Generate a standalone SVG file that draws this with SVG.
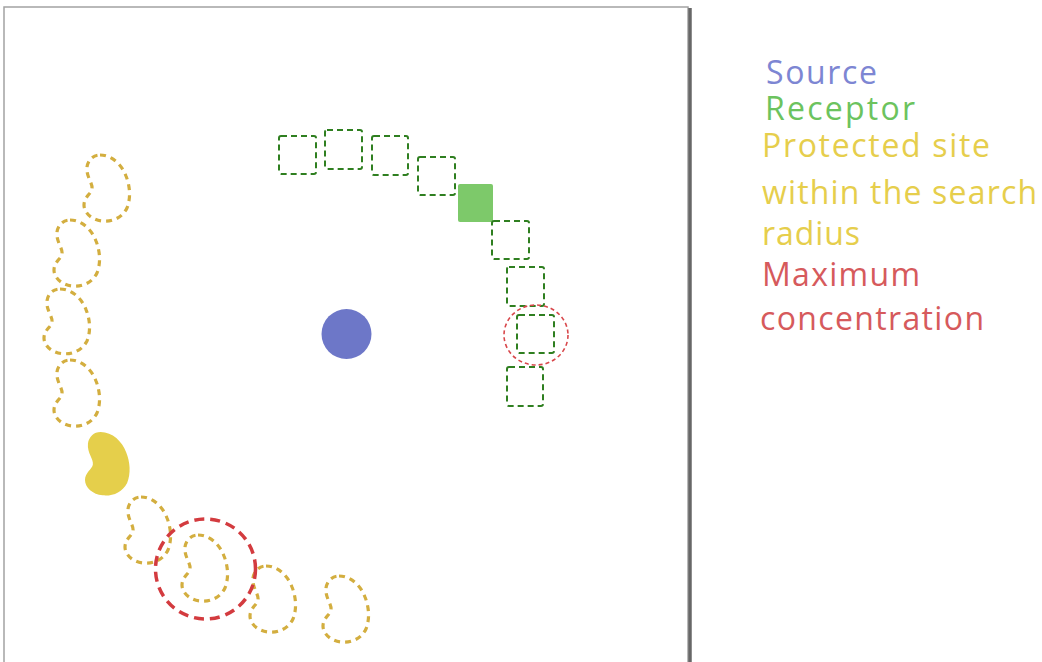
<svg xmlns="http://www.w3.org/2000/svg" xmlns:xlink="http://www.w3.org/1999/xlink" width="1042" height="662" viewBox="0 0 1042 662">
<style>
.frame{fill:none;stroke:#a3a3a3;stroke-width:1.5}
.shadow{stroke:#676767;stroke-width:3.5}
.site{fill:none;stroke:#D3AE3F;stroke-width:3.2;stroke-dasharray:6 5;stroke-linecap:butt}
.sitefill{fill:#E5CF4B;stroke:none}
.rec{fill:none;stroke:#2F7F20;stroke-width:2;stroke-dasharray:6 4}
.recfill{fill:#7DC96A}
.maxbig{fill:none;stroke:#D33B3F;stroke-width:3.5;stroke-dasharray:10 6}
.maxsmall{fill:none;stroke:#D8474B;stroke-width:1.6;stroke-dasharray:4 3}
.lg{font-family:"Open Sans","Noto Sans",sans-serif;font-size:32px}
</style>
<defs>
<path id="bean" d="M16,0 C28,0 38,10 42,21 C46,31 47,43 43,53 C38,63 28,67 18,66 C8,65 0,58 0,50 C0,42 7,39 8,34 C9,28 2,22 3,12 C4,5 9,0 16,0 Z"/>
</defs>
<rect width="1042" height="662" fill="#ffffff"/>
<g id="frame">
<rect class="frame" x="4" y="7" width="684" height="700"/>
<line class="shadow" x1="690" y1="8" x2="690" y2="662"/>
</g>
<g id="source"><circle cx="346.5" cy="334" r="25" fill="#6D77C8"/></g>
<g id="receptors">
<rect class="rec" x="279" y="136" width="37" height="38" rx="2"/>
<rect class="rec" x="325" y="130" width="37" height="39" rx="2"/>
<rect class="rec" x="372" y="136" width="36" height="39" rx="2"/>
<rect class="rec" x="418" y="157" width="37" height="38" rx="2"/>
<rect class="recfill" x="458" y="184" width="35" height="38" rx="2"/>
<rect class="rec" x="492" y="221" width="37" height="38" rx="2"/>
<rect class="rec" x="507" y="267" width="37" height="39" rx="2"/>
<rect class="rec" x="517" y="315" width="37" height="38" rx="2"/>
<rect class="rec" x="507" y="367" width="36" height="39" rx="2"/>
</g>
<g id="sites">
<use xlink:href="#bean" class="site" transform="translate(84,155)"/>
<use xlink:href="#bean" class="site" transform="translate(54,220)"/>
<use xlink:href="#bean" class="site" transform="translate(44,289) scale(1,0.98)"/>
<use xlink:href="#bean" class="site" transform="translate(54,360)"/>
<use xlink:href="#bean" class="sitefill" transform="translate(85,432) scale(0.98,0.96)"/>
<use xlink:href="#bean" class="site" transform="translate(125,497)"/>
<use xlink:href="#bean" class="site" transform="translate(182,535)"/>
<use xlink:href="#bean" class="site" transform="translate(250,566)"/>
<use xlink:href="#bean" class="site" transform="translate(323,576)"/>
</g>
<g id="maxima">
<circle class="maxbig" cx="205.5" cy="569" r="50"/>
<ellipse class="maxsmall" cx="536" cy="335" rx="32" ry="30"/>
</g>
<g id="legend">
<text class="lg" x="766" y="84" fill="#7D86D3" textLength="111">Source</text>
<text class="lg" x="765" y="120" fill="#6CC35E" textLength="150">Receptor</text>
<text class="lg" x="762" y="157" fill="#E6CE4C" textLength="228">Protected site</text>
<text class="lg" x="762" y="204" fill="#E6CE4C" textLength="275">within the search</text>
<text class="lg" x="762" y="245" fill="#E6CE4C" textLength="98">radius</text>
<text class="lg" x="762" y="286" fill="#D65A5C" textLength="158">Maximum</text>
<text class="lg" x="760" y="330" fill="#D65A5C" textLength="224">concentration</text>
</g>
</svg>
